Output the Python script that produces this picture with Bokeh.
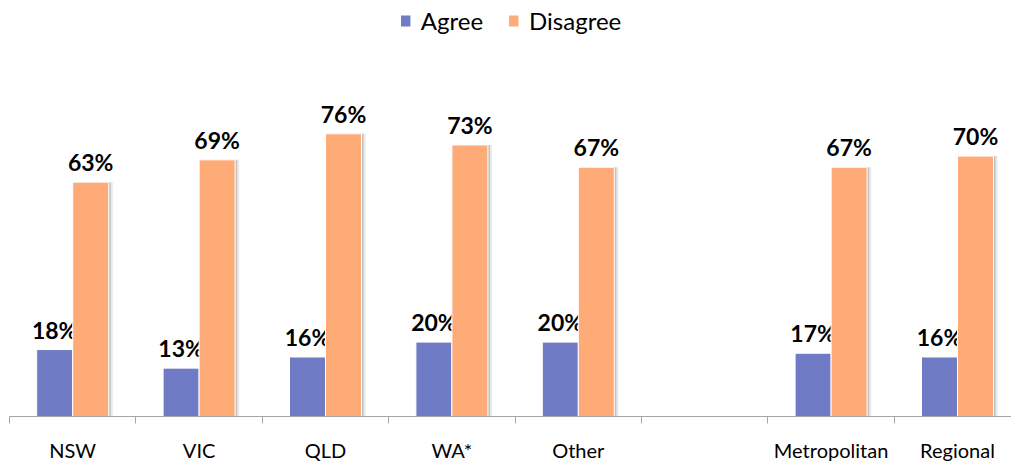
from bokeh.plotting import figure
from bokeh.models import ColumnDataSource, FixedTicker, Range1d, LinearAxis
from bokeh.transform import dodge
from bokeh.embed import file_html
from bokeh.resources import INLINE

# ---- data ----
categories = ["NSW", "VIC", "QLD", "WA*", "Other", "", "Metropolitan", "Regional"]
agree = [18, 13, 16, 20, 20, None, 17, 16]
disagree = [63, 69, 76, 73, 67, None, 67, 70]
series_names = ["Agree", "Disagree"]
colors = ["#6F7BC4", "#FFAB78"]

# ---- build source (skip empty slot) ----
idx = [i for i, c in enumerate(categories) if c != ""]
src = ColumnDataSource(dict(
    x=[float(i) for i in idx],
    agree=[agree[i] for i in idx],
    disagree=[disagree[i] for i in idx],
    agree_lbl=["%d%%" % agree[i] for i in idx],
    disagree_lbl=["%d%%" % disagree[i] for i in idx],
))

px_per_cat = 126.4
px_per_pct = 3.72
frame_w, frame_h = 1002, 416

p = figure(frame_width=frame_w, frame_height=frame_h,
           x_range=Range1d(-0.5, -0.5 + frame_w / px_per_cat),
           y_range=Range1d(0, frame_h / px_per_pct),
           output_backend="svg", toolbar_location=None,
           x_axis_location=None, y_axis_location=None,
           min_border_left=9, min_border_right=0, min_border_top=0, min_border_bottom=47)
p.outline_line_color = None
p.xgrid.visible = False
p.ygrid.visible = False
p.background_fill_color = "white"

off = 18 / px_per_cat
bw = 36 / px_per_cat
sdx1 = 2 / px_per_cat
sdx2 = 4 / px_per_cat

# shadows (drawn behind)
for key, o in (("agree", -off), ("disagree", off)):
    for sd, a in ((sdx2, 0.12), (sdx1, 0.22)):
        p.vbar(x=dodge("x", o + sd, range=p.x_range), top=key, bottom=0, width=bw,
               source=src, fill_color="#404040", fill_alpha=a, line_color=None)

for key, o, name, col in (("agree", -off, series_names[0], colors[0]),
                          ("disagree", off, series_names[1], colors[1])):
    p.vbar(x=dodge("x", o, range=p.x_range), top=key, bottom=0, width=bw,
           source=src, fill_color=col, line_color="white", line_width=1,
           legend_label=name)
    p.text(x=dodge("x", o, range=p.x_range), y=key, text=key + "_lbl", source=src,
           text_align="center", text_baseline="alphabetic", y_offset=-20,
           text_font={"value": "Lato"}, text_font_style="bold",
           text_font_size="23px", text_color="black")

# axis
ax = LinearAxis()
ax.ticker = FixedTicker(ticks=[float(i) for i in idx],
                        minor_ticks=[i - 0.5 for i in range(len(categories))])
ax.major_label_overrides = {float(i): categories[i] for i in idx}
ax.axis_line_color = "#A6A6A6"
ax.axis_line_width = 1
ax.major_tick_line_color = None
ax.major_tick_out = 0
ax.major_tick_in = 0
ax.minor_tick_line_color = "#A6A6A6"
ax.minor_tick_out = 7
ax.minor_tick_in = 0
ax.major_label_standoff = 14
ax.major_label_text_font = "Lato"
ax.major_label_text_font_size = "20px"
ax.major_label_text_color = "black"
p.add_layout(ax, "below")

# legend
lg = p.legend[0]
lg.location = "top_center"
lg.orientation = "horizontal"
lg.glyph_width = 13
lg.glyph_height = 15
lg.label_standoff = 9
lg.spacing = 24
lg.padding = 0
lg.margin = 6
lg.border_line_color = None
lg.background_fill_alpha = 0
lg.label_text_font = "Lato"
lg.label_text_font_size = "24px"
lg.label_text_color = "black"

open("out.html", "w").write(file_html(p, INLINE))
